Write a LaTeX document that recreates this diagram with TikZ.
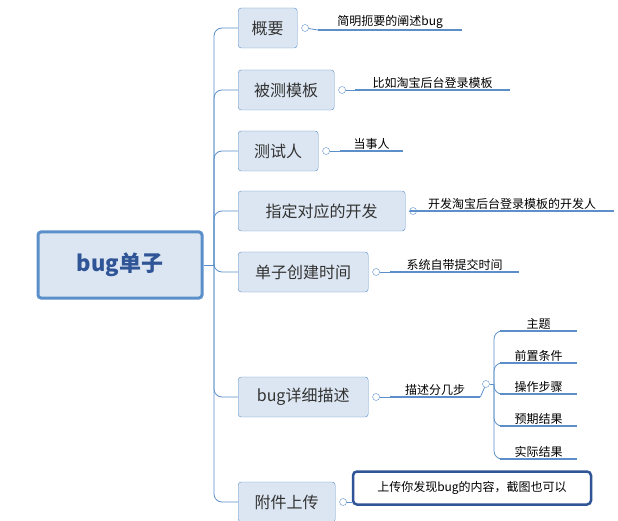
\documentclass[tikz,border=0pt]{standalone}
\usepackage{fontspec}
\setmainfont{Noto Sans CJK SC}
\usetikzlibrary{positioning}
\definecolor{edge}{HTML}{5B8FC9}
\definecolor{boxfill}{HTML}{DCE6F2}
\definecolor{dark}{HTML}{2F5597}
\tikzset{
  basic/.style  = {draw=edge, fill=boxfill, rounded corners=3pt, inner sep=0pt, font=\fontsize{16}{18}\selectfont, text=black!80},
  topic/.style  = {basic, minimum height=40pt, anchor=west},
  root/.style   = {basic, line width=3pt, minimum width=164pt, minimum height=66pt, font=\fontsize{22}{24}\selectfont\bfseries, text=dark},
  knob/.style   = {draw=edge, fill=white, circle, inner sep=0pt, minimum size=7pt},
  note/.style   = {inner sep=1pt, anchor=south west, font=\fontsize{12}{14}\selectfont},
  line/.style   = {draw=edge, line width=1.6pt},
  link/.style   = {draw=edge, line width=0.8pt, rounded corners=8pt}
}
\newcommand\notebar[1]{\draw[line] (#1.south west) -- (#1.south east);}
\begin{document}
\begin{tikzpicture}[x=1pt,y=-1pt]
\useasboundingbox (0,0) rectangle (618,521);
\node[root] (bug) at (120,265) {bug单子};
% topics
\node[topic, minimum width=59pt]  (t1) at (238,28)  {概要};
\node[topic, minimum width=96pt]  (t2) at (238,90)  {被测模板};
\node[topic, minimum width=80pt]  (t3) at (238,151) {测试人};
\node[topic, minimum width=167pt] (t4) at (238,211) {指定对应的开发};
\node[topic, minimum width=130pt] (t5) at (238,272) {单子创建时间};
\node[topic, minimum width=130pt] (t6) at (238,397) {bug详细描述};
\node[topic, minimum width=97pt]  (t7) at (238,502) {附件上传};
\coordinate (trunk) at (214,265);
\draw[link] (bug.east) -- (trunk);
\foreach \t in {t1,t2,t3,t4,t5,t6,t7}
  \draw[link] (trunk) |- (\t.west);
% knobs
\node[knob, right=4pt of t1] (k1) {};
\node[knob, right=4pt of t2] (k2) {};
\node[knob, right=4pt of t3] (k3) {};
\node[knob, right=4pt of t4] (k4) {};
\node[knob, right=4pt of t5] (k5) {};
\node[knob, right=4pt of t6] (k6) {};
\node[knob, right=4pt of t7] (k7) {};
% notes
\node[note, minimum width=144pt] (n1) at (318,30)  {简明扼要的阐述bug};
\node[note, minimum width=155pt] (n2) at (355,90)  {比如淘宝后台登录模板};
\node[note, minimum width=63pt]  (n3) at (340,151) {当事人};
\node[note, minimum width=204pt] (n4) at (410,211) {开发淘宝后台登录模板的开发人};
\node[note, minimum width=129pt] (n5) at (390,272) {系统自带提交时间};
\node[note, minimum width=90pt]  (n6) at (390,397) {描述分几步};
\foreach \i in {1,...,6} {
  \notebar{n\i}
  \draw[link] (k\i) -- (n\i.south west);
}
\node[draw=dark, line width=2.5pt, rounded corners=4pt, minimum width=238pt, minimum height=33pt, font=\fontsize{12}{14}\selectfont] (n7) at (472,488) {上传你发现bug的内容，截图也可以};
\draw[link] (k7) -- (n7.west |- k7);
% steps
\node[knob] (k8) at (486,384) {};
\draw[link] (n6.south east) -- (k8);
\coordinate (fork) at (494,384);
\draw[link] (k8) -- (fork);
\foreach \n/\s/\y in {s1/主题/331, s2/前置条件/363, s3/操作步骤/394, s4/预期结果/426, s5/实际结果/459} {
  \node[note, minimum width=77pt] (\n) at (500,\y) {\s};
  \notebar{\n}
  \draw[link] (fork) |- (\n.south west);
}
\end{tikzpicture}
\end{document}
